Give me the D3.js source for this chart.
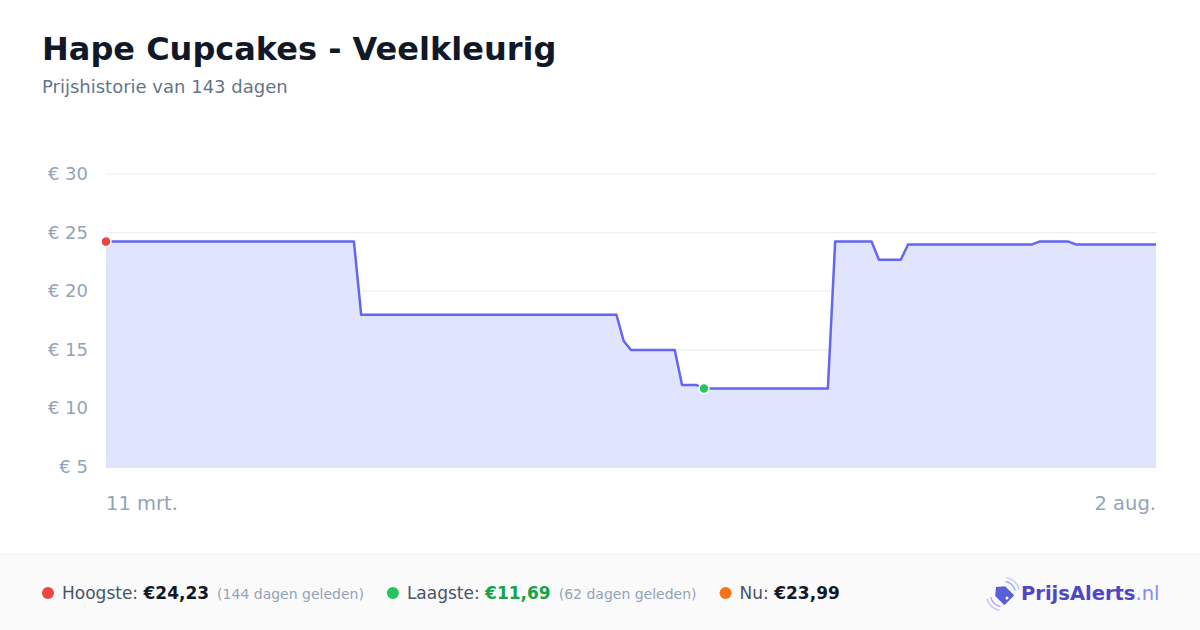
<!DOCTYPE html>
<html lang="nl">
<head>
<meta charset="UTF-8">
<title>Hape Cupcakes - Veelkleurig</title>
<script src="https://cdn.jsdelivr.net/npm/d3@7"></script>
<style>
  html, body { margin: 0; padding: 0; background: #fff; }
  svg { display: block; font-family: "DejaVu Sans", sans-serif; }
</style>
</head>
<body>
<div id="chart"></div>
<script>
// prijsdata (datum -> prijs in euro)
const dates = ["2025-03-11", "2025-04-14", "2025-04-15", "2025-05-20", "2025-05-21", "2025-05-22",
  "2025-05-28", "2025-05-29", "2025-05-31", "2025-06-01", "2025-06-18", "2025-06-19",
  "2025-06-24", "2025-06-25", "2025-06-28", "2025-06-29", "2025-07-16", "2025-07-17",
  "2025-07-21", "2025-07-22", "2025-08-02"];
const prices = [24.23, 24.23, 17.99, 17.99, 15.75, 14.99,
  14.99, 11.99, 11.99, 11.69, 11.69, 24.23,
  24.23, 22.69, 22.69, 23.99, 23.99, 24.23,
  24.23, 23.99, 23.99];
const yTicks = [5, 10, 15, 20, 25, 30];
const xLabels = ["11 mrt.", "2 aug."];
const stats = [
  { label: "Hoogste:", value: "€24,23", note: "(144 dagen geleden)", dot: "#ef4444", valueColor: "#111827" },
  { label: "Laagste:", value: "€11,69", note: "(62 dagen geleden)", dot: "#22c55e", valueColor: "#16a34a" },
  { label: "Nu:", value: "€23,99", note: "", dot: "#f97316", valueColor: "#111827" }
];

const W = 1200, H = 630;
const parse = d3.timeParse("%Y-%m-%d");
const data = dates.map((d, i) => ({ date: parse(d), price: prices[i] }));

const svg = d3.select("#chart").append("svg")
  .attr("width", W).attr("height", H);

// titel
svg.append("text")
  .attr("x", 42).attr("y", 60)
  .attr("font-size", 32).attr("font-weight", "bold")
  .attr("fill", "#111827")
  .text("Hape Cupcakes - Veelkleurig");
svg.append("text")
  .attr("x", 42).attr("y", 93)
  .attr("font-size", 18).attr("fill", "#64748b")
  .text("Prijshistorie van 143 dagen");

const x = d3.scaleTime()
  .domain(d3.extent(data, d => d.date))
  .range([106, 1156]);
const y = d3.scaleLinear()
  .domain([5, 30])
  .range([467, 174]);

// gridlijnen
svg.append("g").selectAll("line")
  .data(yTicks)
  .join("line")
  .attr("x1", 106).attr("x2", 1156)
  .attr("y1", d => y(d)).attr("y2", d => y(d))
  .attr("stroke", "#eceef2").attr("stroke-width", 1.2);

// y-as labels
svg.append("g").selectAll("text")
  .data(yTicks)
  .join("text")
  .attr("x", 88).attr("y", d => y(d) + 6)
  .attr("text-anchor", "end")
  .attr("font-size", 18).attr("fill", "#94a3b8")
  .text(d => "€ " + d);

// vlak
const area = d3.area()
  .x(d => x(d.date))
  .y0(y(5))
  .y1(d => y(d.price));
svg.append("path")
  .datum(data)
  .attr("d", area)
  .attr("fill", "#e0e4fd");

// basislijn
svg.append("line")
  .attr("x1", 106).attr("x2", 1156)
  .attr("y1", y(5)).attr("y2", y(5))
  .attr("stroke", "#dcdcf0").attr("stroke-width", 1.5);

const line = d3.line()
  .x(d => x(d.date))
  .y(d => y(d.price));
svg.append("path")
  .datum(data)
  .attr("d", line)
  .attr("fill", "none")
  .attr("stroke", "#6366f1")
  .attr("stroke-width", 2.5)
  .attr("stroke-linejoin", "round");

// markers hoogste / laagste
const maxIdx = d3.maxIndex(prices);
const minIdx = d3.minIndex(prices);
[[maxIdx, "#ef4444"], [minIdx, "#22c55e"]].forEach(([i, c]) => {
  svg.append("circle")
    .attr("cx", x(data[i].date)).attr("cy", y(data[i].price))
    .attr("r", 5)
    .attr("fill", c)
    .attr("stroke", "#fff").attr("stroke-width", 1.5);
});

// x-as labels
svg.append("text")
  .attr("x", 106).attr("y", 510)
  .attr("font-size", 19.5).attr("fill", "#94a3b8")
  .text(xLabels[0]);
svg.append("text")
  .attr("x", 1156).attr("y", 510)
  .attr("text-anchor", "end")
  .attr("font-size", 19.5).attr("fill", "#94a3b8")
  .text(xLabels[1]);

// footer
svg.append("rect")
  .attr("x", 0).attr("y", 554).attr("width", W).attr("height", H - 554)
  .attr("fill", "#fafafa");
svg.append("line")
  .attr("x1", 0).attr("x2", W).attr("y1", 554).attr("y2", 554)
  .attr("stroke", "#f0f0f2");

let cx = 48;
stats.forEach(s => {
  svg.append("circle")
    .attr("cx", cx).attr("cy", 593).attr("r", 6)
    .attr("fill", s.dot);
  const t = svg.append("text")
    .attr("x", cx + 14).attr("y", 599)
    .attr("font-size", 17);
  t.append("tspan").attr("fill", "#475569").text(s.label + " ");
  t.append("tspan").attr("fill", s.valueColor).attr("font-weight", "bold").text(s.value);
  let extra = 0;
  if (s.note) {
    t.append("tspan").attr("fill", "#94a3b8").attr("font-size", 14).attr("dx", 8).text(s.note);
    extra = 8;
  }
  cx = cx + 14 + t.node().getComputedTextLength() + extra + 29;
});

// logo
const logo = svg.append("g").attr("transform", "translate(1003,594)");
logo.append("path")
  .attr("d", "M-10,0 L-4,-7 L8,-7 Q9,-7 9,-6 L9,6 Q9,7 8,7 L-4,7 Z")
  .attr("transform", "rotate(45)")
  .attr("fill", "#5a5fd8");
logo.append("circle").attr("cx", 4).attr("cy", 4).attr("r", 1.5).attr("fill", "#fff");
[[12, 0.75], [16, 0.45]].forEach(([r, o]) => {
  const arc = d3.arc().innerRadius(r).outerRadius(r + 1.4);
  logo.append("path")
    .attr("d", arc({ startAngle: 0.2, endAngle: 1.3 }))
    .attr("fill", "#818cf8").attr("opacity", o);
  logo.append("path")
    .attr("d", arc({ startAngle: Math.PI + 0.2, endAngle: Math.PI + 1.3 }))
    .attr("fill", "#818cf8").attr("opacity", o);
});
const lt = svg.append("text")
  .attr("x", 1021).attr("y", 600)
  .attr("font-size", 19.5).attr("font-weight", "bold");
lt.append("tspan").attr("fill", "#4f46c6").text("PrijsAlerts");
lt.append("tspan").attr("fill", "#818cf8").attr("font-weight", "normal").text(".nl");
</script>
</body>
</html>
